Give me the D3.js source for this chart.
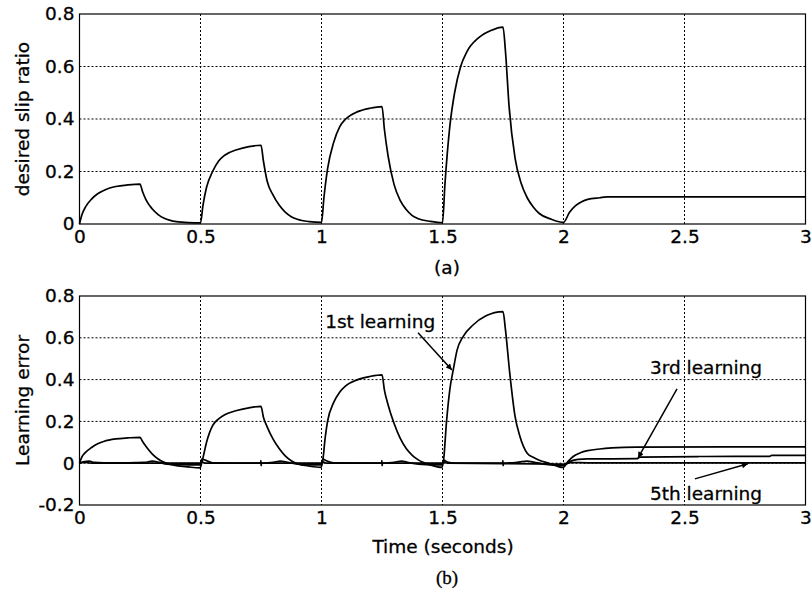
<!DOCTYPE html>
<html>
<head>
<meta charset="utf-8">
<script src="https://cdn.jsdelivr.net/npm/d3@7"></script>
<style>
body { margin: 0; background: #fff; }
text { font-family: "DejaVu Sans", Arial, sans-serif; fill: #000; stroke: #000; stroke-width: 0.3px; }
</style>
</head>
<body>
<div id="chart"></div>
<script>
// tick values
var xTicks = [0, 0.5, 1, 1.5, 2, 2.5, 3];
var yTicksA = [0, 0.2, 0.4, 0.6, 0.8];
var yTicksB = [-0.2, 0, 0.2, 0.4, 0.6, 0.8];

// (a) desired slip ratio  [time, value]
var desiredSlip = [
  [0,0],[0.01,0.035],[0.025,0.065],[0.05,0.095],[0.075,0.115],[0.1,0.128],[0.125,0.137],[0.15,0.143],[0.2,0.149],[0.25,0.152],
  [0.26,0.125],[0.275,0.092],[0.3,0.058],[0.325,0.036],[0.35,0.022],[0.375,0.014],[0.4,0.009],[0.45,0.005],[0.5,0.004],
  [0.51,0.07],[0.525,0.14],[0.55,0.2],[0.575,0.24],[0.6,0.262],[0.65,0.283],[0.7,0.295],[0.75,0.3],
  [0.76,0.24],[0.775,0.165],[0.8,0.11],[0.825,0.072],[0.85,0.045],[0.875,0.028],[0.9,0.018],[0.95,0.009],[1.0,0.006],
  [1.01,0.1],[1.025,0.21],[1.05,0.31],[1.075,0.37],[1.1,0.4],[1.15,0.428],[1.2,0.441],[1.25,0.447],
  [1.26,0.36],[1.275,0.26],[1.3,0.15],[1.325,0.09],[1.35,0.055],[1.375,0.032],[1.4,0.02],[1.45,0.01],[1.5,0.005],
  [1.51,0.15],[1.53,0.37],[1.55,0.5],[1.575,0.6],[1.6,0.655],[1.65,0.71],[1.7,0.737],[1.75,0.75],
  [1.76,0.66],[1.775,0.45],[1.8,0.25],[1.825,0.155],[1.85,0.1],[1.875,0.065],[1.9,0.04],[1.95,0.018],[2.0,0.006],
  [2.025,0.045],[2.05,0.07],[2.075,0.085],[2.1,0.094],[2.15,0.1],[2.18,0.103],[3,0.103]
];

// (b) learning error, 1st learning
var learn1 = [
  [0,0],[0.01,0.03],[0.025,0.052],[0.05,0.075],[0.075,0.093],[0.1,0.104],[0.15,0.116],[0.2,0.121],[0.25,0.124],
  [0.26,0.105],[0.275,0.08],[0.3,0.045],[0.325,0.02],[0.35,0.004],[0.375,-0.006],[0.4,-0.012],[0.45,-0.018],[0.498,-0.022],
  [0.505,0.0],[0.515,0.05],[0.525,0.1],[0.55,0.18],[0.575,0.212],[0.6,0.232],[0.65,0.252],[0.7,0.265],[0.75,0.272],
  [0.76,0.22],[0.775,0.175],[0.8,0.115],[0.825,0.07],[0.85,0.035],[0.875,0.012],[0.9,-0.002],[0.95,-0.014],[0.998,-0.02],
  [1.005,0.01],[1.015,0.12],[1.025,0.2],[1.05,0.29],[1.075,0.34],[1.1,0.37],[1.15,0.4],[1.2,0.415],[1.25,0.423],
  [1.26,0.35],[1.275,0.28],[1.3,0.19],[1.325,0.12],[1.35,0.07],[1.375,0.038],[1.4,0.016],[1.45,-0.008],[1.498,-0.02],
  [1.505,0.02],[1.516,0.19],[1.53,0.35],[1.545,0.45],[1.56,0.54],[1.585,0.606],[1.625,0.66],[1.68,0.705],[1.75,0.725],
  [1.76,0.64],[1.778,0.43],[1.8,0.223],[1.82,0.128],[1.85,0.048],[1.875,0.028],[1.9,0.014],[1.94,0.0],[1.998,-0.02],
  [2.02,0.01],[2.04,0.032],[2.07,0.05],[2.1,0.06],[2.15,0.068],[2.2,0.073],[2.3,0.077],[3,0.078]
];

// (b) learning error, 3rd learning
var learn3 = [
  [0,0],[0.02,0.008],[0.04,0.01],[0.06,0.004],[0.1,0.002],[0.2,0.002],[0.27,0.004],[0.3,0.01],[0.33,0.004],[0.36,-0.005],
  [0.45,-0.008],[0.499,-0.008],[0.505,0.02],[0.52,0.015],[0.55,0.002],[0.7,0.0],[0.749,0.0],[0.7495,0.012],[0.7505,-0.012],[0.752,0],
  [0.8,0.004],[0.83,0.01],[0.86,0.004],[0.9,-0.004],[0.999,-0.008],[1.005,0.02],[1.02,0.012],[1.05,0.002],
  [1.249,0],[1.2495,0.012],[1.2505,-0.012],[1.252,0],[1.3,0.004],[1.33,0.01],[1.36,0.003],[1.4,-0.004],[1.499,-0.008],
  [1.505,0.015],[1.52,0.005],[1.55,0.0],[1.749,0],[1.7495,0.012],[1.7505,-0.012],[1.752,0],[1.8,0.003],[1.85,0.01],[1.88,0.004],
  [1.92,-0.004],[1.99,-0.01],[2.0,-0.01],[2.03,0.01],[2.06,0.018],[2.1,0.021],[2.2,0.021],[2.305,0.022],[2.315,0.029],
  [2.55,0.031],[2.56,0.032],[2.85,0.033],[2.86,0.037],[3,0.037]
];

// (b) learning error, 5th learning
var learn5 = [
  [0,0],[0.02,0.004],[0.05,0.0],[0.499,0],[0.505,0.006],[0.52,0],[0.999,0],[1.005,0.006],[1.02,0],[1.499,0],[1.505,0.006],
  [1.52,0],[1.99,-0.004],[2.0,-0.005],[2.03,0.003],[2.1,0.002],[3,0.002]
];

// annotation labels (data coordinates of panel b)
var noteText = ["1st learning", "3rd learning", "5th learning"];
var notePos = [[1.015, 0.647], [2.357, 0.425], [2.357, -0.176]];
var arrowFrom = [[1.399, 0.624], [2.469, 0.356], [2.543, -0.075]];
var arrowTo = [[1.539, 0.446], [2.308, 0.025], [2.762, -0.003]];

var svgWidth = 812;
var svgHeight = 597;

var svg = d3.select("#chart")
  .append("svg")
  .attr("width", svgWidth)
  .attr("height", svgHeight);

svg.append("defs").append("marker")
  .attr("id", "arrow")
  .attr("viewBox", "0 0 10 10")
  .attr("refX", 10).attr("refY", 5)
  .attr("markerWidth", 10).attr("markerHeight", 6)
  .attr("markerUnits", "userSpaceOnUse")
  .attr("orient", "auto")
  .append("path")
  .attr("d", "M0,0L10,5L0,10z")
  .attr("fill", "#000");

var xScale = d3.scaleLinear().domain([0, 3]).range([79.5, 805.5]);
var fontSize = 18.5;

function drawPanel(top, bottom, yDomain, yTicks, yLabel) {
  var yScale = d3.scaleLinear().domain(yDomain).range([bottom, top]);
  var g = svg.append("g");

  // dotted grid
  g.selectAll(".vgrid")
    .data(xTicks.slice(1, -1))
    .enter().append("line")
    .attr("x1", d => xScale(d)).attr("x2", d => xScale(d))
    .attr("y1", top).attr("y2", bottom)
    .attr("stroke", "#000").attr("stroke-width", 1)
    .attr("stroke-dasharray", "2,2");
  g.selectAll(".hgrid")
    .data(yTicks.slice(1, -1))
    .enter().append("line")
    .attr("x1", xScale(0)).attr("x2", xScale(3))
    .attr("y1", d => yScale(d)).attr("y2", d => yScale(d))
    .attr("stroke", "#000").attr("stroke-width", 1)
    .attr("stroke-dasharray", "2,2");

  // box
  g.append("rect")
    .attr("x", xScale(0)).attr("y", top)
    .attr("width", xScale(3) - xScale(0)).attr("height", bottom - top)
    .attr("fill", "none").attr("stroke", "#000").attr("stroke-width", 1.2);

  // axes (labels only)
  var bottomAxis = d3.axisBottom(xScale).tickValues(xTicks).tickSize(0).tickPadding(6)
    .tickFormat(d3.format("~g"));
  var leftAxis = d3.axisLeft(yScale).tickValues(yTicks).tickSize(0).tickPadding(5)
    .tickFormat(d => d3.format("~g")(d).replace("−", "-"));

  var xa = g.append("g").attr("transform", `translate(0, ${bottom})`).call(bottomAxis);
  var ya = g.append("g").attr("transform", `translate(${xScale(0)}, 0)`).call(leftAxis);
  [xa, ya].forEach(function(a) {
    a.select(".domain").remove();
    a.selectAll("text").style("font-size", fontSize + "px").style("font-family", '"DejaVu Sans", sans-serif');
  });

  g.append("text")
    .attr("transform", "rotate(-90)")
    .attr("x", -(top + bottom) / 2)
    .attr("y", 29)
    .attr("text-anchor", "middle")
    .style("font-size", fontSize + "px")
    .text(yLabel);

  return yScale;
}

var line = function(yScale) {
  return d3.line()
    .x(d => xScale(d[0]))
    .y(d => yScale(d[1]))
    .curve(d3.curveMonotoneX);
};

// panel (a)
var yA = drawPanel(14, 224, [0, 0.8], yTicksA, "desired slip ratio");
svg.append("path")
  .datum(desiredSlip)
  .attr("d", line(yA))
  .attr("fill", "none").attr("stroke", "#000").attr("stroke-width", 1.7);

svg.append("text")
  .attr("x", 447).attr("y", 274)
  .attr("text-anchor", "middle")
  .style("font-size", fontSize + "px")
  .text("(a)");

// panel (b)
var yB = drawPanel(296, 505, [-0.2, 0.8], yTicksB, "Learning error");
[learn5, learn3, learn1].forEach(function(s) {
  svg.append("path")
    .datum(s)
    .attr("d", line(yB))
    .attr("fill", "none").attr("stroke", "#000").attr("stroke-width", 1.7);
});

noteText.forEach(function(t, i) {
  svg.append("text")
    .attr("x", xScale(notePos[i][0]))
    .attr("y", yB(notePos[i][1]))
    .style("font-size", fontSize + "px")
    .text(t);
  svg.append("line")
    .attr("x1", xScale(arrowFrom[i][0])).attr("y1", yB(arrowFrom[i][1]))
    .attr("x2", xScale(arrowTo[i][0])).attr("y2", yB(arrowTo[i][1]))
    .attr("stroke", "#000").attr("stroke-width", 1.5)
    .attr("marker-end", "url(#arrow)");
});

svg.append("text")
  .attr("x", 443).attr("y", 553)
  .attr("text-anchor", "middle")
  .style("font-size", fontSize + "px")
  .text("Time (seconds)");

svg.append("text")
  .attr("x", 447).attr("y", 584)
  .attr("text-anchor", "middle")
  .style("font-family", '"Liberation Serif", "Times New Roman", serif')
  .style("font-size", "19px")
  .text("(b)");
</script>
</body>
</html>
